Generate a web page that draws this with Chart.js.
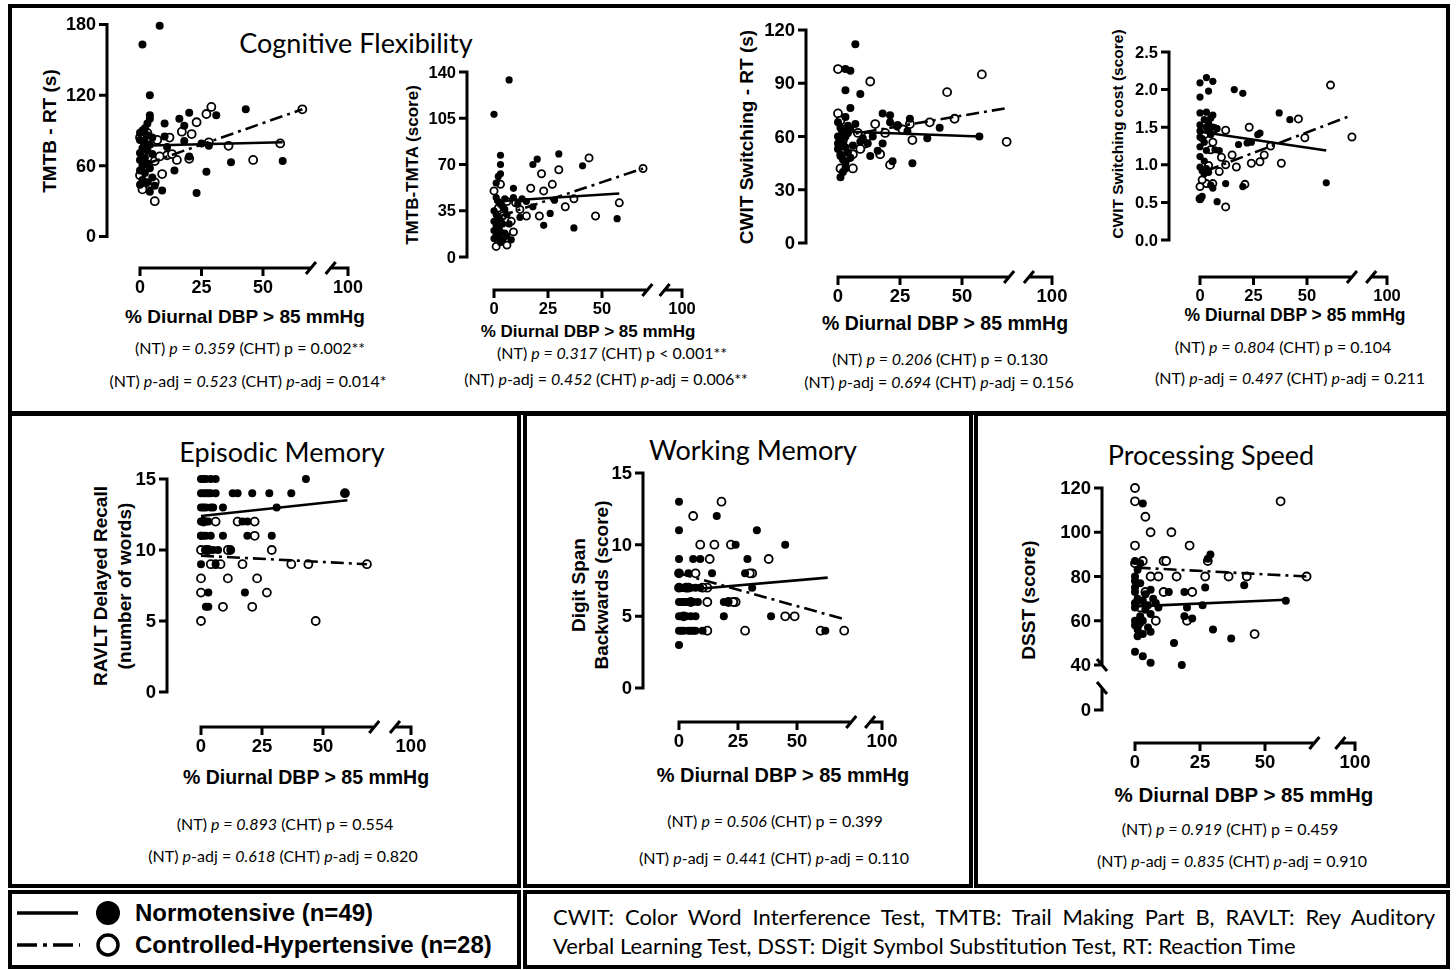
<!DOCTYPE html>
<html>
<head>
<meta charset="utf-8">
<script src="https://cdn.jsdelivr.net/npm/chart.js@4.4.1/dist/chart.umd.min.js"></script>
<style>
body{margin:0;background:#fff;width:1456px;height:970px;position:relative;overflow:hidden;font-family:"Liberation Sans",Arial,sans-serif;color:#000;}
.box{position:absolute;border:3px solid #000;box-sizing:border-box;}
.t{position:absolute;white-space:nowrap;transform:translate(-50%,-50%);}
.grp{font-family:Lato,sans-serif;font-size:27px;}
.ax{font-weight:bold;}
.yt{transform:translate(-50%,-50%) rotate(-90deg);font-weight:bold;text-align:center;}
.pv{font-family:Lato,sans-serif;font-size:16px;}
.lg{position:absolute;white-space:nowrap;transform:translateY(-50%);font-weight:bold;font-size:24px;}
canvas{position:absolute;}
</style>
</head>
<body>
<div class="box" style="left:8px;top:4px;width:1442px;height:411px;border-width:4px"></div>
<div class="box" style="left:8px;top:412px;width:513px;height:476px;border-width:4px"></div>
<div class="box" style="left:523px;top:412px;width:450px;height:476px;border-width:4px"></div>
<div class="box" style="left:974px;top:412px;width:476px;height:476px;border-width:4px"></div>
<div class="box" style="left:8px;top:890px;width:513px;height:79px;border-width:4px"></div>
<div class="box" style="left:523px;top:890px;width:927px;height:79px;border-width:4px"></div>

<div class="t grp" style="left:356px;top:42px">Cognitive Flexibility</div>
<div class="t grp" style="left:282px;top:451px">Episodic Memory</div>
<div class="t grp" style="left:753px;top:449px">Working Memory</div>
<div class="t grp" style="left:1211px;top:454px">Processing Speed</div>

<div class="t yt" style="left:50px;top:131px;font-size:19px">TMTB - RT (s)</div>
<div class="t yt" style="left:413px;top:165px;font-size:17px">TMTB-TMTA (score)</div>
<div class="t yt" style="left:747px;top:137px;font-size:19px">CWIT Switching - RT (s)</div>
<div class="t yt" style="left:1118px;top:134px;font-size:15.5px">CWIT Switching cost (score)</div>
<div class="t yt" style="left:113px;top:586px;font-size:19px;line-height:24px">RAVLT Delayed Recall<br>(number of words)</div>
<div class="t yt" style="left:590px;top:585px;font-size:19px;line-height:23px">Digit Span<br>Backwards (score)</div>
<div class="t yt" style="left:1029px;top:600px;font-size:19px">DSST (score)</div>

<div class="t ax" style="left:245px;top:317px;font-size:19px">% Diurnal DBP &gt; 85 mmHg</div>
<div class="t ax" style="left:588px;top:332px;font-size:17px">% Diurnal DBP &gt; 85 mmHg</div>
<div class="t ax" style="left:945px;top:323px;font-size:19.5px">% Diurnal DBP &gt; 85 mmHg</div>
<div class="t ax" style="left:1295px;top:315px;font-size:17.5px">% Diurnal DBP &gt; 85 mmHg</div>
<div class="t ax" style="left:306px;top:777px;font-size:19.5px">% Diurnal DBP &gt; 85 mmHg</div>
<div class="t ax" style="left:783px;top:775px;font-size:20px">% Diurnal DBP &gt; 85 mmHg</div>
<div class="t ax" style="left:1244px;top:795px;font-size:20.5px">% Diurnal DBP &gt; 85 mmHg</div>

<div class="t pv" style="left:250px;top:347px">(NT) <i>p = 0.359</i> (CHT) p = 0.002**</div>
<div class="t pv" style="left:248px;top:380px">(NT) <i>p</i>-adj = <i>0.523</i> (CHT) <i>p</i>-adj = 0.014*</div>
<div class="t pv" style="left:612px;top:352px">(NT) <i>p = 0.317</i> (CHT) p &lt; 0.001**</div>
<div class="t pv" style="left:606px;top:378px">(NT) <i>p</i>-adj = <i>0.452</i> (CHT) <i>p</i>-adj = 0.006**</div>
<div class="t pv" style="left:940px;top:358px">(NT) <i>p = 0.206</i> (CHT) p = 0.130</div>
<div class="t pv" style="left:939px;top:381px">(NT) <i>p</i>-adj = <i>0.694</i> (CHT) <i>p</i>-adj = 0.156</div>
<div class="t pv" style="left:1283px;top:346px">(NT) <i>p = 0.804</i> (CHT) p = 0.104</div>
<div class="t pv" style="left:1290px;top:377px">(NT) <i>p</i>-adj = <i>0.497</i> (CHT) <i>p</i>-adj = 0.211</div>
<div class="t pv" style="left:285px;top:823px">(NT) <i>p = 0.893</i> (CHT) p = 0.554</div>
<div class="t pv" style="left:283px;top:855px">(NT) <i>p</i>-adj = <i>0.618</i> (CHT) <i>p</i>-adj = 0.820</div>
<div class="t pv" style="left:775px;top:820px">(NT) <i>p = 0.506</i> (CHT) p = 0.399</div>
<div class="t pv" style="left:774px;top:857px">(NT) <i>p</i>-adj = <i>0.441</i> (CHT) <i>p</i>-adj = 0.110</div>
<div class="t pv" style="left:1230px;top:828px">(NT) <i>p = 0.919</i> (CHT) p = 0.459</div>
<div class="t pv" style="left:1232px;top:860px">(NT) <i>p</i>-adj = <i>0.835</i> (CHT) <i>p</i>-adj = 0.910</div>

<svg style="position:absolute;left:0;top:890px" width="140" height="78">
  <line x1="17" y1="23" x2="78" y2="23" stroke="#000" stroke-width="3.5"/>
  <circle cx="108" cy="23" r="12" fill="#000"/>
  <line x1="17" y1="55" x2="80" y2="55" stroke="#000" stroke-width="3.5" stroke-dasharray="20 6 4 6"/>
  <circle cx="108" cy="55" r="10" fill="#fff" stroke="#000" stroke-width="3.5"/>
</svg>
<div class="lg" style="left:135px;top:913px">Normotensive (n=49)</div>
<div class="lg" style="left:135px;top:945px">Controlled-Hypertensive (n=28)</div>

<div style="position:absolute;left:553px;top:902px;width:882px;font-family:Lato,sans-serif;font-size:22px;line-height:29px">
  <div style="text-align:justify;text-align-last:justify">CWIT: Color Word Interference Test, TMTB: Trail Making Part B, RAVLT: Rey Auditory</div>
  <div>Verbal Learning Test, DSST: Digit Symbol Substitution Test, RT: Reaction Time</div>
</div>

<script>
const xTicks = [0, 25, 50, 100];

// TMTB reaction time
const tmtbRtYTicks = [0, 60, 120, 180];
const tmtbRtNT = [[1,163],[8,179],[4,120],[4,103],[4,100],[3,96],[2,92],[1,90],[0,88],[3,86],[5,84],[0,82],[2,80],[4,78],[1,75],[3,73],[0,71],[5,70],[2,67],[0,65],[3,62],[1,60],[4,58],[0,56],[2,54],[5,50],[1,48],[3,46],[0,44],[6,43],[4,38],[9,39],
  [10,96],[16,100],[20,105],[18,94],[31,103],[43,108],[10,85],[18,81],[25,79],[28,77],[37,63],[58,64],[14,56],[27,55],[23,37],[20,68],[11,76]];
const tmtbRtCHT = [[66,108],[57,79],[46,65],[36,77],[29,110],[27,104],[23,97],[21,87],[17,89],[12,84],[15,65],[20,66],[11,69],[9,53],[6,30],[1,40],[0,84],[2,77],[2,60],[4,45],[6,46],[6,64],[3,88],[7,82],[13,70],[28,80],[0,52],[8,68]];
const tmtbRtFitNT = [[0,77],[58,80]];
const tmtbRtFitCHT = [[3,62],[66,108]];

// TMTB - TMTA
const tmtbDiffYTicks = [0, 35, 70, 105, 140];
const tmtbDiffNT = [[7,134],[0,108],[3,77],[3,70],[3,63],[2,61],[1,56],[9,52],[20,74],[18,70],[30,78],[41,69],[13,44],[18,38],[23,24],[26,33],[37,22],[57,29],[28,43],
  [1,45],[2,42],[3,40],[4,38],[5,36],[0,35],[1,32],[2,30],[3,28],[0,27],[4,25],[1,24],[2,22],[0,20],[3,19],[5,18],[1,17],[6,16],[2,15],[0,14],[4,13],[8,13],[3,11],[9,45],[7,25],[6,32],[11,40],[15,42],[5,44],[12,30]];
const tmtbDiffCHT = [[69,67],[58,41],[47,31],[44,75],[37,44],[30,66],[27,55],[22,63],[23,50],[17,52],[21,31],[15,31],[12,36],[3,55],[0,50],[1,8],[6,9],[9,19],[3,26],[6,42],[2,37],[5,16],[10,41],[33,38],[2,22],[4,31],[1,14],[8,27]];
const tmtbDiffFitNT = [[0,42],[58,48]];
const tmtbDiffFitCHT = [[3,31],[69,67]];

// CWIT switching reaction time
const cwitRtYTicks = [0, 30, 60, 90, 120];
const cwitRtNT = [[7,112],[3,98],[5,97],[3,86],[9,84],[5,76],[3,71],[7,67],[18,73],[21,72],[29,70],[41,65],[57,60],[36,59],[28,63],[21,68],[10,59],[9,57],[12,56],[13,49],[16,52],[18,56],[22,46],[30,45],[1,37],[1,49],[3,54],[3,45],
  [0,68],[1,65],[2,63],[4,62],[0,60],[5,64],[1,58],[3,60],[2,56],[0,53],[4,51],[1,50],[5,48],[2,47],[6,55],[0,56],[4,66],[14,60],[24,66],[3,42],[2,40]];
const cwitRtCHT = [[0,98],[13,91],[44,85],[58,95],[68,57],[47,70],[37,68],[29,67],[24,66],[15,67],[30,58],[21,44],[17,50],[11,56],[12,60],[6,50],[6,42],[1,42],[0,73],[1,69],[26,64],[3,64],[1,55],[8,62],[4,48],[2,58],[19,62],[9,53]];
const cwitRtFitNT = [[0,63],[57,60]];
const cwitRtFitCHT = [[0,60],[68,76]];

// CWIT switching cost
const cwitCostYTicks = [0, 0.5, 1, 1.5, 2, 2.5];
const cwitCostNT = [[0,2.09],[3,2.16],[6,2.11],[4,1.98],[0,1.90],[16,2.0],[20,1.95],[0,1.69],[3,1.70],[6,1.66],[0,1.53],[4,1.55],[2,1.60],[5,1.62],
  [8,1.48],[0,1.37],[0,1.24],[2,1.30],[3,1.19],[9,1.19],[18,1.27],[22,1.29],[28,1.42],[27,1.40],[37,1.69],[42,1.60],
  [0,1.11],[0,0.97],[2,0.88],[1,0.58],[0,0.54],[5,0.73],[6,0.69],[12,0.75],[20,0.71],[8,0.51],[59,0.76],[3,0.95],
  [1,1.35],[4,1.45],[2,1.05],[5,1.40],[7,1.20],[1,0.92],[3,1.50],[0,1.45],[6,1.50],[4,0.90],[24,1.30]];
const cwitCostCHT = [[61,2.06],[71,1.37],[46,1.61],[49,1.36],[23,1.50],[12,1.46],[7,1.48],[6,1.30],[15,1.13],[30,1.13],[28,1.04],[24,1.02],[38,1.02],[17,0.97],[12,1.00],[9,0.91],[4,0.99],[3,0.75],[6,0.75],[21,0.74],[12,0.44],[0,0.71],[0,0.55],[2,1.40],[10,1.10],[33,1.25],[5,1.20],[1,0.80]];
const cwitCostFitNT = [[0,1.44],[59,1.19]];
const cwitCostFitCHT = [[3,0.92],[71,1.66]];

// RAVLT delayed recall
const ravltYTicks = [0, 5, 10, 15];
const ravltNT = [[0,15],[2,15],[4,15],[6,15],[43,15],
  [0,14],[2,14],[4,14],[6,14],[13,14],[15,14],[21,14],[28,14],[37,14],[59,14],
  [0,13],[1,13],[4,13],[5,13],[9,13],[31,13],
  [0,12],[2,12],[3,12],[17,12],[19,12],
  [0,11],[1,11],[2,11],[4,11],[9,11],[19,11],[29,11],
  [2,10],[7,10],[12,10],[5,10],[0,9],[6,9],[3,7],[18,7],[2,6],[3,6],
  [1,14],[3,14],[1,12],[1,15],[0,11],[2,13]];
const ravltCHT = [[59,14],[6,12],[15,12],[22,12],[22,11],[0,10],[3,10],[12,10],[29,10],[6,9],[17,9],[37,9],[44,9],[68,9],[0,8],[11,8],[23,8],[0,7],[27,7],[9,6],[21,6],[0,5],[47,5],[8,9],[2,10],[1,12],[4,9],[11,10]];
const ravltFitNT = [[0,12.4],[60,13.5]];
const ravltFitCHT = [[0,9.6],[68,9.0]];

// Digit span backwards
const digitYTicks = [0, 5, 10, 15];
const digitNT = [[0,13],[0,11],[16,12],[33,11],[45,10],[24,10],[0,9],[6,9],[9,9],[29,9],[14,8],[28,8],
  [31,7],[0,7],[2,7],[5,7],[7,7],[0,6],[3,6],[4,6],[19,6],[21,6],[0,5],[2,5],[5,5],[7,5],[19,5],[39,5],
  [0,4],[2,4],[4,4],[6,4],[7,4],[10,4],[62,4],[0,3],
  [1,7],[3,5],[1,6],[5,4],[8,6],[1,5],[3,7],[0,8],[1,4],[2,6],[4,8],[6,6],[9,7]];
const digitCHT = [[18,13],[6,12],[9,10],[15,10],[22,10],[38,9],[0,8],[31,8],[30,8],[12,7],[12,6],[24,6],[45,5],[49,5],[12,4],[28,4],[60,4],[70,4],[3,7],[0,7],[5,6],[21,6],[23,6],[13,9],[7,8],[2,5],[10,7],[4,7]];
const digitFitNT = [[0,6.8],[63,7.7]];
const digitFitCHT = [[0,8.0],[70,4.8]];

// DSST
const dsstYTicks = [40, 60, 80, 100, 120];
const dsstNT = [[3,113],[0,87],[2,86],[0,80],[0,78],[0,75],[0,73],[0,68],[0,66],[3,69],[4,72],[6,74],[8,68],[0,60],[0,58],[1,56],[1,53],[6,55],[6,63],[5,57],
  [13,73],[19,73],[27,75],[29,90],[28,88],[42,76],[26,67],[58,69],[19,62],[22,61],[30,56],[37,52],[15,50],[0,46],[3,44],[6,41],[18,40],
  [2,62],[1,70],[3,60],[4,65],[2,77],[5,67],[1,83],[7,70],[9,66],[3,54],[2,59],[20,66]];
const dsstCHT = [[0,120],[0,114],[4,107],[6,100],[14,100],[0,94],[21,94],[6,80],[11,87],[12,87],[3,87],[16,80],[28,87],[36,80],[43,80],[66,80],[56,114],[11,73],[22,73],[8,60],[20,60],[46,54],[0,86],[2,66],[1,58],[9,80],[4,73],[27,80]];
const dsstFitNT = [[0,66.5],[58,69.5]];
const dsstFitCHT = [[1,84],[66,80]];

// GraphPad style axes: offset y axis, offset x axis with a break before 100
const gpAxes = {
  id: 'gpAxes',
  afterDraw(chart, args, o) {
    const ctx = chart.ctx;
    const xs = chart.scales.x, ys = chart.scales.y;
    const tl = 8;
    ctx.save();
    ctx.strokeStyle = '#000';
    ctx.fillStyle = '#000';
    ctx.lineWidth = 3;
    ctx.font = 'bold ' + o.fs + 'px "Liberation Sans", Arial, sans-serif';

    const ax = xs.getPixelForValue(0) - o.yGap;
    const ticks = o.yTicks;
    const top = ys.getPixelForValue(ticks[ticks.length - 1]);
    const bot = ys.getPixelForValue(ticks[0]);
    ctx.beginPath();
    ctx.moveTo(ax, top - 1.5);
    ctx.lineTo(ax, bot + (o.zeroBreak ? 0 : 1.5));
    ticks.forEach(v => {
      const py = ys.getPixelForValue(v);
      ctx.moveTo(ax + 1.5, py);
      ctx.lineTo(ax - tl, py);
    });
    if (o.zeroBreak) {
      const z = ys.getPixelForValue(ys.min);
      const b2 = bot + 23;
      ctx.moveTo(ax - 5, bot - 6); ctx.lineTo(ax + 5, bot + 6);
      ctx.moveTo(ax - 5, b2 - 6); ctx.lineTo(ax + 5, b2 + 6);
      ctx.moveTo(ax, b2); ctx.lineTo(ax, z + 1.5);
      ctx.moveTo(ax + 1.5, z); ctx.lineTo(ax - tl, z);
    }
    ctx.stroke();
    ctx.textAlign = 'right';
    ctx.textBaseline = 'middle';
    ticks.forEach(v => ctx.fillText(v.toFixed(o.dec), ax - tl - 3, ys.getPixelForValue(v) + 1));
    if (o.zeroBreak) ctx.fillText('0', ax - tl - 3, ys.getPixelForValue(ys.min) + 1);

    const ay = ys.getPixelForValue(ys.min) + o.xGap;
    const px = v => xs.getPixelForValue(v === 100 ? xs.max : v);
    const b1 = xs.getPixelForValue(o.brk[0]), b2 = xs.getPixelForValue(o.brk[1]);
    ctx.beginPath();
    ctx.moveTo(px(0) - 1.5, ay); ctx.lineTo(b1, ay);
    ctx.moveTo(b2, ay); ctx.lineTo(px(100) + 1.5, ay);
    ctx.moveTo(b1 - 5, ay + 6); ctx.lineTo(b1 + 5, ay - 6);
    ctx.moveTo(b2 - 5, ay + 6); ctx.lineTo(b2 + 5, ay - 6);
    xTicks.forEach(v => {
      ctx.moveTo(px(v), ay - 1.5);
      ctx.lineTo(px(v), ay + tl);
    });
    ctx.stroke();
    ctx.textAlign = 'center';
    ctx.textBaseline = 'top';
    xTicks.forEach(v => ctx.fillText(String(v), px(v), ay + tl + 3));
    ctx.restore();
  }
};

// where each panel sits on the page
const panels = [
  {nt: tmtbRtNT, cht: tmtbRtCHT, fitNT: tmtbRtFitNT, fitCHT: tmtbRtFitCHT, yTicks: tmtbRtYTicks, dec: 0,
   x0: 140, x50: 263, x100: 348, brk: [69.5, 77.5], yBot: 236.5, yTop: 24.5, yAxisX: 107, xAxisY: 268, fs: 18, r: 4},
  {nt: tmtbDiffNT, cht: tmtbDiffCHT, fitNT: tmtbDiffFitNT, fitCHT: tmtbDiffFitCHT, yTicks: tmtbDiffYTicks, dec: 0,
   x0: 494, x50: 602, x100: 682, brk: [71, 79], yBot: 257, yTop: 72, yAxisX: 467, xAxisY: 290, fs: 16.5, r: 3.6},
  {nt: cwitRtNT, cht: cwitRtCHT, fitNT: cwitRtFitNT, fitCHT: cwitRtFitCHT, yTicks: cwitRtYTicks, dec: 0,
   x0: 838, x50: 962, x100: 1052, brk: [69, 77], yBot: 243, yTop: 30, yAxisX: 806, xAxisY: 277, fs: 18.5, r: 4},
  {nt: cwitCostNT, cht: cwitCostCHT, fitNT: cwitCostFitNT, fitCHT: cwitCostFitCHT, yTicks: cwitCostYTicks, dec: 1,
   x0: 1200, x50: 1307, x100: 1387, brk: [71, 80], yBot: 240, yTop: 52, yAxisX: 1169, xAxisY: 277, fs: 16.5, r: 3.6},
  {nt: ravltNT, cht: ravltCHT, fitNT: ravltFitNT, fitCHT: ravltFitCHT, yTicks: ravltYTicks, dec: 0,
   x0: 201, x50: 323, x100: 411, brk: [71, 79.5], yBot: 692, yTop: 479, yAxisX: 167, xAxisY: 727, fs: 18.5, r: 4},
  {nt: digitNT, cht: digitCHT, fitNT: digitFitNT, fitCHT: digitFitCHT, yTicks: digitYTicks, dec: 0,
   x0: 679, x50: 797, x100: 882, brk: [73, 81], yBot: 688, yTop: 473, yAxisX: 643, xAxisY: 722, fs: 18.5, r: 4},
  {nt: dsstNT, cht: dsstCHT, fitNT: dsstFitNT, fitCHT: dsstFitCHT, yTicks: dsstYTicks, dec: 0,
   x0: 1135, x50: 1265, x100: 1355, brk: [69, 79], yBot: 665, yTop: 488, zeroPx: 710, yAxisX: 1102, xAxisY: 743, fs: 18.5, r: 4}
];

const pts = arr => arr.map(d => ({x: d[0], y: d[1]}));

panels.forEach(p => {
  const ppu = (p.x50 - p.x0) / 50;
  const xMax = (p.x100 - p.x0) / ppu;
  const yMinT = p.yTicks[0], yMaxT = p.yTicks[p.yTicks.length - 1];
  let yMin = yMinT, lowPx = p.yBot;
  if (p.zeroPx) {
    const yppu = (p.yBot - p.yTop) / (yMaxT - yMinT);
    yMin = yMinT - (p.zeroPx - p.yBot) / yppu;
    lowPx = p.zeroPx;
  }
  const L = p.yAxisX - 58, R = p.x100 + 28, T = Math.round(p.yTop - 14), B = p.xAxisY + 42;
  const cv = document.createElement('canvas');
  cv.width = R - L;
  cv.height = B - T;
  cv.style.left = L + 'px';
  cv.style.top = T + 'px';
  document.body.appendChild(cv);

  new Chart(cv, {
    type: 'scatter',
    data: {
      datasets: [
        {data: pts(p.fitNT), showLine: true, borderColor: '#000', borderWidth: 2.6, pointRadius: 0, clip: false},
        {data: pts(p.fitCHT), showLine: true, borderColor: '#000', borderWidth: 2.6, borderDash: [13, 5, 3, 5], pointRadius: 0, clip: false},
        {data: pts(p.nt), pointRadius: p.r, backgroundColor: '#000', borderColor: '#000', borderWidth: 0, clip: false},
        {data: pts(p.cht), pointRadius: p.r, backgroundColor: '#fff', borderColor: '#000', borderWidth: 1.8, clip: false}
      ]
    },
    options: {
      responsive: false,
      animation: false,
      events: [],
      layout: {padding: {left: p.x0 - L, right: R - p.x100, top: p.yTop - T, bottom: B - lowPx}},
      scales: {
        x: {type: 'linear', display: false, min: 0, max: xMax},
        y: {type: 'linear', display: false, min: yMin, max: yMaxT}
      },
      plugins: {
        legend: {display: false},
        tooltip: {enabled: false},
        gpAxes: {yTicks: p.yTicks, dec: p.dec, brk: p.brk, fs: p.fs, yGap: p.x0 - p.yAxisX, xGap: p.xAxisY - lowPx, zeroBreak: !!p.zeroPx}
      }
    },
    plugins: [gpAxes]
  });
});
</script>
</body>
</html>
